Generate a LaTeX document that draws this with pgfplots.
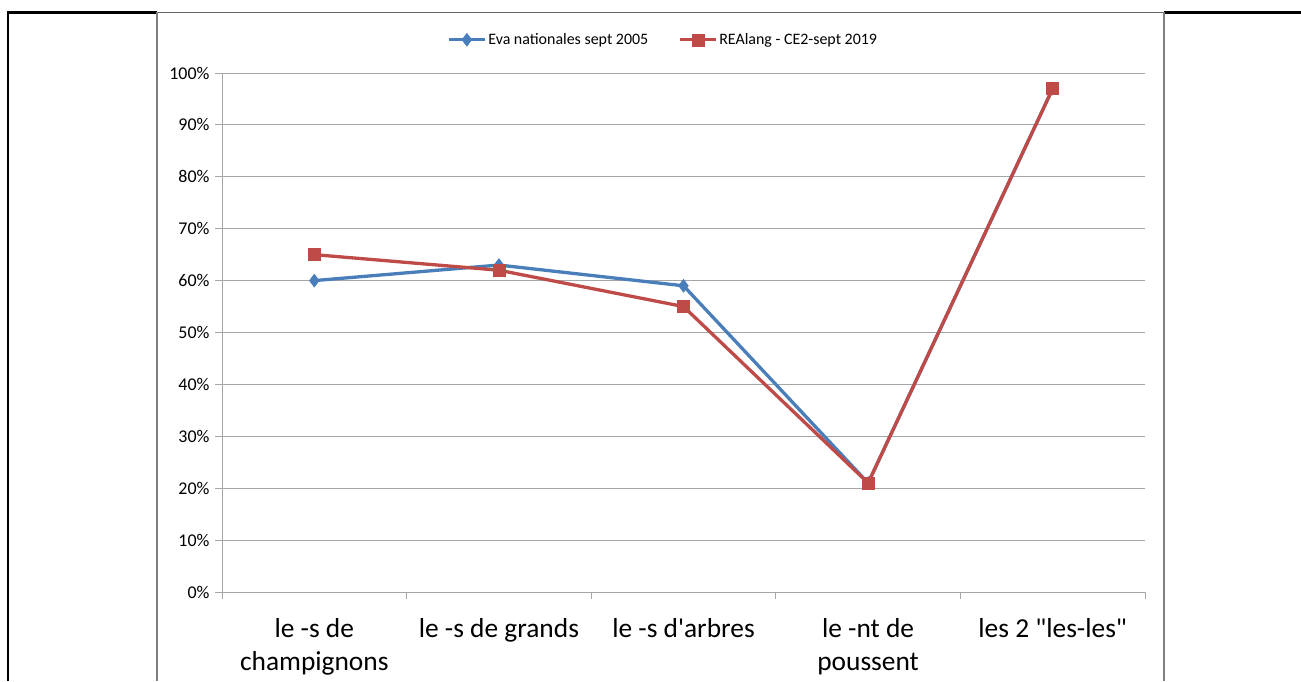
\documentclass[border=0pt]{standalone}
\usepackage{pgfplots}
\pgfplotsset{compat=1.18}
\usepackage{fontspec}
\setmainfont{Carlito}[Ligatures=TeXOff]
\definecolor{cblue}{HTML}{4A7EBB}
\definecolor{cred}{HTML}{BE4B48}
\definecolor{cgrid}{HTML}{A6A6A6}
\begin{document}
\begin{tikzpicture}[x=1bp,y=-1bp]
\useasboundingbox (0,0) rectangle (1301,681);
\draw[black,line width=2.2bp] (8,681) -- (8,12.5) -- (157,12.5);
\draw[black,line width=2.2bp] (1164,12.5) -- (1301,12.5);
\draw[black!60,line width=1.2bp] (157,12.5) -- (1164,12.5);
\draw[black!50,line width=1.5bp] (157,12) -- (157,681);
\draw[black!50,line width=2bp] (1164,12) -- (1164,681);
\begin{axis}[
  at={(222bp,-592bp)}, anchor=south west,
  scale only axis, width=923bp, height=519bp,
  xmin=0, xmax=5, ymin=0, ymax=100,
  xtick={0,1,2,3,4,5}, xticklabels={},
  extra x ticks={0.5,1.5,2.5,3.5,4.5},
  extra x tick labels={{le -s de\\champignons},{le -s de grands},{le -s d'arbres},{le -nt de\\poussent},{les 2 "les-les"}},
  extra x tick style={major tick length=0pt, grid=none,
     tick label style={font=\fontsize{27.5}{33}\selectfont, align=center, anchor=north, yshift=-23bp}},
  ytick={0,10,...,100},
  yticklabel={\pgfmathprintnumber{\tick}\%},
  /pgf/number format/assume math mode=true,
  yticklabel style={font=\fontsize{18}{20}\selectfont, xshift=-2bp},
  ymajorgrids, grid style={cgrid, line width=1bp},
  axis x line*=bottom, axis y line*=left,
  axis line style={cgrid, line width=1bp, -},
  major tick length=7bp,
  tick style={cgrid, line width=1bp},
  xtick pos=bottom, ytick pos=left,
  tick align=outside,
  clip=false,
  legend style={at={(0.478,1.064)}, anchor=center, draw=none, fill=none,
     legend columns=2, font=\fontsize{16}{18}\selectfont,
     /tikz/every even column/.append style={column sep=28bp}},
  legend image code/.code={
     \draw[#1, line width=3bp] (0bp,0bp) -- (36bp,0bp);
     \draw[#1, mark repeat=1, mark phase=1] plot coordinates {(18bp,0bp)};},
]
\addplot[cblue, line width=3.3bp, mark=diamond*, mark size=6.5bp, mark options={solid, fill=cblue, draw=cblue, line width=0.5bp}]
  coordinates {(0.5,60) (1.5,63) (2.5,59) (3.5,21) (4.5,97)};
\addlegendentry{Eva nationales sept 2005}
\addplot[cred, line width=3.3bp, mark=square*, mark size=6bp, mark options={solid, fill=cred, draw=cred, line width=0.5bp}]
  coordinates {(0.5,65) (1.5,62) (2.5,55) (3.5,21) (4.5,97)};
\addlegendentry{REAlang - CE2-sept 2019}
\end{axis}
\end{tikzpicture}
\end{document}
